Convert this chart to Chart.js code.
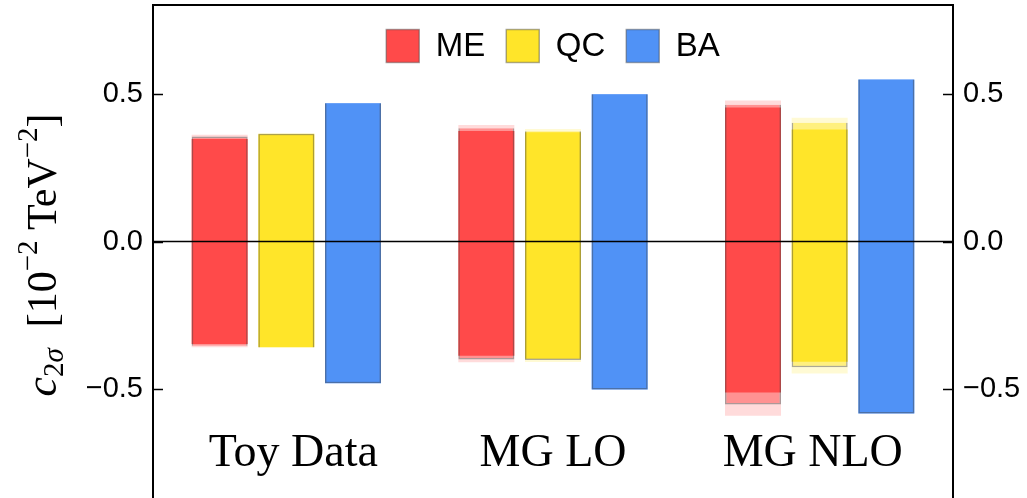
<!DOCTYPE html>
<html>
<head>
<meta charset="utf-8">
<script src="https://cdn.jsdelivr.net/npm/chart.js@4.4.0/dist/chart.umd.min.js"></script>
<style>
  html, body { margin: 0; padding: 0; background: #fff; overflow: hidden; }
  canvas { display: block; }
</style>
</head>
<body>
<canvas id="c2sigma" width="1027" height="498"></canvas>
<script>
// Fitted intervals for c_{2 sigma}, [lower, upper] per data set
const categories = ['Toy Data', 'MG LO', 'MG NLO'];
const seriesNames = ['ME', 'QC', 'BA'];

// innermost (fully overlapping) interval
const meCore  = [[-0.346, 0.347], [-0.386, 0.374], [-0.510, 0.453]];
// outlined interval
const meBand  = [[-0.352, 0.355], [-0.399, 0.383], [-0.551, 0.463]];
// widest interval
const meOuter = [[-0.357, 0.361], [-0.408, 0.394], [-0.589, 0.477]];

const qcCore  = [[-0.356, 0.363], [-0.396, 0.370], [-0.406, 0.379]];
const qcBand  = [[-0.358, 0.365], [-0.400, 0.373], [-0.425, 0.402]];
const qcOuter = [[-0.360, 0.367], [-0.407, 0.381], [-0.446, 0.419]];

const baCore  = [[-0.479, 0.468], [-0.500, 0.498], [-0.581, 0.548]];
const baBand  = [[-0.479, 0.468], [-0.500, 0.498], [-0.581, 0.548]];
const baOuter = [[-0.479, 0.468], [-0.500, 0.498], [-0.581, 0.548]];

const yTicks = [-0.8, -0.7, -0.6, -0.5, -0.4, -0.3, -0.2, -0.1, 0, 0.1, 0.2, 0.3, 0.4, 0.5, 0.6, 0.7, 0.8];
const yTickLabels = [-0.5, 0, 0.5];

// ---- styling ----
const rgb = {
  ME: [255, 74, 74],
  QC: [255, 229, 41],
  BA: [80, 146, 246]
};
const edge = 'rgba(70, 70, 70, 0.45)';
const col = (name, a) => `rgba(${rgb[name].join(',')},${a})`;

const intervals = {
  ME: [meCore, meBand, meOuter],
  QC: [qcCore, qcBand, qcOuter],
  BA: [baCore, baBand, baOuter]
};

const datasets = [];
seriesNames.forEach(name => {
  const [core, band, outer] = intervals[name];
  datasets.push({
    label: name + ' outer', data: outer, stack: name,
    backgroundColor: col(name, 0.2), borderWidth: 0, order: 3
  });
  datasets.push({
    label: name + ' core', data: core, stack: name,
    backgroundColor: col(name, 1), borderWidth: 0, order: 2
  });
  datasets.push({
    label: name, data: band, stack: name,
    backgroundColor: col(name, 0.5), borderColor: edge, borderWidth: 1.5, order: 1
  });
});

const isMajor = v => yTickLabels.some(t => Math.abs(t - v) < 1e-9);
const fmtTick = v => {
  if (!isMajor(v)) return null;
  if (Math.abs(v) < 1e-9) return '0.0';
  return (v < 0 ? '\u2212' : '') + Math.abs(v).toFixed(1);
};

const yAxis = (position, width) => ({
  type: 'linear',
  position,
  min: -0.867,
  max: 0.8,
  stacked: false,
  afterBuildTicks: s => { s.ticks = yTicks.map(v => ({ value: v })); },
  afterFit: s => {
    s.width = width;
    s.paddingTop = 0;
    s.paddingBottom = 0;
  },
  grid: { display: false, drawTicks: false },
  border: { display: true, color: '#000', width: 2 },
  ticks: {
    autoSkip: false,
    padding: 10,
    color: '#000',
    font: { family: 'Liberation Sans', size: 29 },
    callback: fmtTick
  }
});

// legend row placed inside the plot, near the top
function drawLegend(ctx, a) {
  const box = 33, gap = 16.5, spacing = 21;
  ctx.font = '33px "Liberation Sans"';
  const widths = seriesNames.map(n => box + gap + ctx.measureText(n).width);
  const total = widths.reduce((s, w) => s + w, 0) + spacing * (seriesNames.length - 1);
  let x = (a.left + a.right) / 2 - total / 2;
  const top = a.top + 24.5;
  ctx.textAlign = 'left';
  ctx.textBaseline = 'middle';
  seriesNames.forEach((n, i) => {
    ctx.fillStyle = col(n, 1);
    ctx.fillRect(x, top, box, box);
    ctx.strokeStyle = edge;
    ctx.lineWidth = 1.5;
    ctx.strokeRect(x, top, box, box);
    ctx.fillStyle = '#000';
    ctx.fillText(n, x + box + gap, top + box / 2 + 1);
    x += widths[i] + spacing;
  });
}

// frame top, inward tick marks, zero line, legend, group names and y title
const decor = {
  id: 'decor',
  afterDatasetsDraw(chart) {
    const { ctx, chartArea: a, scales } = chart;
    const y0 = scales.y.getPixelForValue(0);
    ctx.save();
    ctx.strokeStyle = '#000';
    ctx.lineWidth = 1.5;
    ctx.beginPath();
    ctx.moveTo(a.left, y0);
    ctx.lineTo(a.right, y0);
    ctx.stroke();
    ctx.restore();
  },
  afterDraw(chart) {
    const { ctx, chartArea: a, scales } = chart;
    ctx.save();
    ctx.strokeStyle = '#000';

    // top edge of the frame
    ctx.lineWidth = 2;
    ctx.beginPath();
    ctx.moveTo(a.left - 1, a.top);
    ctx.lineTo(a.right + 1, a.top);
    ctx.stroke();

    // tick marks pointing into the plot
    ctx.lineWidth = 1.5;
    [['y', 1, a.left], ['y2', -1, a.right]].forEach(([id, dir, x0]) => {
      const s = scales[id];
      s.ticks.forEach(t => {
        const y = Math.round(s.getPixelForValue(t.value)) + 0.5;
        const len = isMajor(t.value) ? 10 : 6;
        ctx.beginPath();
        ctx.moveTo(x0, y);
        ctx.lineTo(x0 + dir * len, y);
        ctx.stroke();
      });
    });

    drawLegend(ctx, a);

    // group names inside the plot, pulled slightly toward the middle
    ctx.fillStyle = '#000';
    ctx.font = '46px "Liberation Serif"';
    ctx.textAlign = 'center';
    ctx.textBaseline = 'alphabetic';
    const mid = (a.left + a.right) / 2;
    categories.forEach((c, i) => {
      const px = scales.x.getPixelForValue(i);
      ctx.fillText(c, mid + (px - mid) * 0.974, 466);
    });

    // y-axis title: c_{2σ} [10^{-2} TeV^{-2}]
    const F = 42, S = 29;
    const parts = [
      { t: 'c', f: `italic ${F + 2}px "Liberation Serif"`, dy: 0 },
      { t: '2', f: `${S}px "Liberation Serif"`, dy: 7 },
      { t: '\u03c3', f: `italic ${S}px "Liberation Serif"`, dy: 7 },
      { t: '  [10', f: `${F}px "Liberation Serif"`, dy: 0 },
      { t: '\u22122', f: `${S}px "Liberation Serif"`, dy: -19 },
      { t: ' TeV', f: `${F}px "Liberation Serif"`, dy: 0 },
      { t: '\u22122', f: `${S}px "Liberation Serif"`, dy: -19 },
      { t: ']', f: `${F}px "Liberation Serif"`, dy: 0 }
    ];
    let total = 0;
    parts.forEach(p => { ctx.font = p.f; p.w = ctx.measureText(p.t).width; total += p.w; });
    ctx.translate(56, 255);
    ctx.rotate(-Math.PI / 2);
    ctx.textAlign = 'left';
    let u = -total / 2;
    parts.forEach(p => {
      ctx.font = p.f;
      ctx.fillText(p.t, u, p.dy);
      u += p.w;
    });
    ctx.restore();
  }
};

new Chart(document.getElementById('c2sigma'), {
  type: 'bar',
  data: { labels: categories, datasets },
  options: {
    responsive: false,
    devicePixelRatio: 1,
    animation: false,
    events: [],
    categoryPercentage: 0.75,
    barPercentage: 0.84,
    layout: { padding: { top: 5, left: 0, right: 0, bottom: 0 } },
    scales: {
      x: { type: 'category', display: false, stacked: true, offset: true, grid: { display: false } },
      y: yAxis('left', 153),
      y2: yAxis('right', 74)
    },
    plugins: {
      tooltip: { enabled: false },
      legend: { display: false }
    }
  },
  plugins: [decor]
});
</script>
</body>
</html>
